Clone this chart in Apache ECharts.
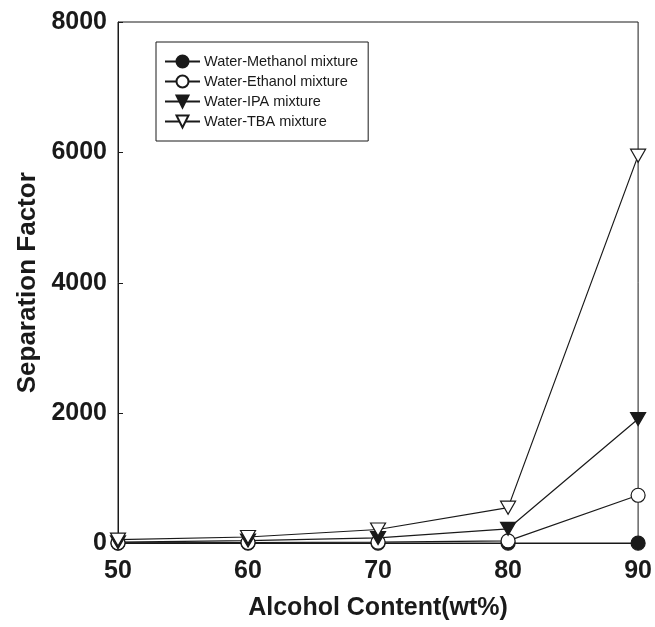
<!DOCTYPE html>
<html>
<head>
<meta charset="utf-8">
<script src="https://cdn.jsdelivr.net/npm/echarts@6/dist/echarts.min.js"></script>
<style>
html,body{margin:0;padding:0;background:#fff;}
#chart{width:655px;height:627px;}
</style>
</head>
<body>
<div id="chart"></div>
<script>
const xValues = [50, 60, 70, 80, 90];
const methanol = [5, 5, 5, 5, 5];
const ethanol = [10, 15, 20, 40, 740];
const ipa = [20, 45, 85, 225, 1910];
const tba = [60, 100, 215, 550, 5950];
const seriesNames = ['Water-Methanol mixture', 'Water-Ethanol mixture', 'Water-IPA mixture', 'Water-TBA mixture'];
const yTicks = [0, 2000, 4000, 6000, 8000];
const xTicks = [50, 60, 70, 80, 90];

const ink = '#1a1a1a';
function pairs(v){ return xValues.map((x,i)=>[x, v[i]]); }
function mkSeries(name, vals, symbol, filled, rotate, size){
  return {
    name: name, type: 'line', data: pairs(vals),
    symbol: symbol, symbolSize: size, symbolRotate: rotate,
    showAllSymbol: true,
    lineStyle: {color: ink, width: 1.2},
    itemStyle: {color: filled ? ink : '#fff', borderColor: ink, borderWidth: 1.2},
    emphasis: {disabled: true},
    animation: false
  };
}
const chart = echarts.init(document.getElementById('chart'), null, {renderer: 'canvas'});
chart.setOption({
  backgroundColor: '#fff',
  animation: false,
  grid: {left: 118, right: 14.5, top: 22, bottom: 83.5, show: true, borderColor: ink, borderWidth: 1, backgroundColor: 'transparent'},
  legend: {
    left: 156, top: 42,
    orient: 'vertical',
    data: seriesNames,
    itemWidth: 35, itemHeight: 15, itemGap: 5,
    padding: [12, 10, 12, 8],
    borderColor: ink, borderWidth: 1,
    textStyle: {fontFamily: 'Liberation Sans, Arial', fontSize: 14.5, color: ink, padding: [0,0,0,-1]},
    selectedMode: false
  },
  xAxis: {
    type: 'value', min: 50, max: 90, interval: 10,
    name: 'Alcohol Content(wt%)', nameLocation: 'middle', nameGap: 52,
    nameTextStyle: {fontFamily: 'Liberation Sans, Arial', fontWeight: 'bold', fontSize: 25, color: ink},
    axisLine: {show: true, lineStyle: {color: ink, width: 1}},
    axisTick: {show: true, inside: true, length: 5, lineStyle: {color: ink}},
    axisLabel: {fontFamily: 'Liberation Sans, Arial', fontWeight: 'bold', fontSize: 25, color: ink, margin: 15,
      formatter: v => xTicks.includes(v) ? String(v) : ''},
    splitLine: {show: false}
  },
  yAxis: {
    type: 'value', min: 0, max: 8000, interval: 2000,
    name: 'Separation Factor', nameLocation: 'middle', nameGap: 70,
    nameTextStyle: {fontFamily: 'Liberation Sans, Arial', fontWeight: 'bold', fontSize: 26, color: ink},
    axisLine: {show: true, lineStyle: {color: ink, width: 1}},
    axisTick: {show: true, inside: true, length: 5, lineStyle: {color: ink}},
    axisLabel: {fontFamily: 'Liberation Sans, Arial', fontWeight: 'bold', fontSize: 25, color: ink, margin: 11,
      formatter: v => yTicks.includes(v) ? String(v) : ''},
    splitLine: {show: false}
  },
  series: [
    mkSeries(seriesNames[0], methanol, 'circle', true, 0, 14),
    mkSeries(seriesNames[1], ethanol, 'circle', false, 0, 14),
    mkSeries(seriesNames[2], ipa, 'triangle', true, 180, [15, 13]),
    mkSeries(seriesNames[3], tba, 'triangle', false, 180, [15, 13])
  ]
});
</script>
</body>
</html>
